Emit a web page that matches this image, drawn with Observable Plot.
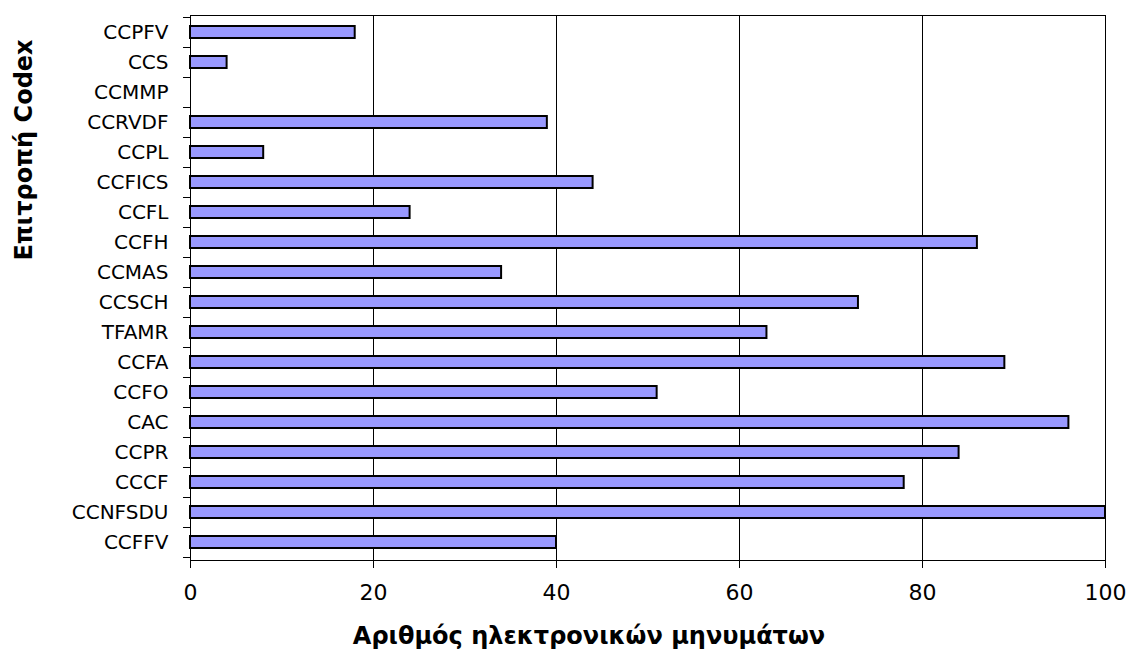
<!DOCTYPE html>
<html>
<head>
<meta charset="utf-8">
<script src="https://cdn.jsdelivr.net/npm/d3@7"></script>
<script src="https://cdn.jsdelivr.net/npm/@observablehq/plot@0.6"></script>
<style>
  html, body { margin: 0; padding: 0; background: #fff; }
  #chart svg { display: block; }
</style>
</head>
<body>
<div id="chart"></div>
<script>
// Categories, listed top to bottom as drawn
const categories = ["CCPFV","CCS","CCMMP","CCRVDF","CCPL","CCFICS","CCFL","CCFH","CCMAS","CCSCH","TFAMR","CCFA","CCFO","CAC","CCPR","CCCF","CCNFSDU","CCFFV"];
const messages   = [18, 4, 0, 39, 8, 44, 24, 86, 34, 73, 63, 89, 51, 96, 84, 78, 100, 40];
const xTicks = [0, 20, 40, 60, 80, 100];
const xTitle = "Αριθμός ηλεκτρονικών μηνυμάτων";
const yTitle = "Επιτροπή Codex";

const data = categories.map((c, i) => ({committee: c, value: messages[i]}));
const font = "'DejaVu Sans', Verdana, sans-serif";

// category boundary ticks (Excel style, between categories)
function categoryTicks(index, scales, values, dimensions) {
  const y = scales.y;
  const step = y.step();
  const off = (step - y.bandwidth()) / 2;
  const g = d3.create("svg:g").attr("stroke", "#000").attr("stroke-width", 1);
  const xs = dimensions.marginLeft;
  const ys = categories.map(c => y(c) - off);
  ys.push(y(categories[categories.length - 1]) - off + step);
  for (const yy of ys) {
    const p = Math.round(yy) + 0.5;
    g.append("line").attr("x1", xs - 7).attr("x2", xs).attr("y1", p).attr("y2", p);
  }
  return g.node();
}

const chart = Plot.plot({
  width: 1126,
  height: 652,
  marginLeft: 190,
  marginRight: 21,
  marginTop: 15,
  marginBottom: 92,
  style: {fontFamily: font, fontSize: "20px", color: "#000", background: "#fff"},
  x: {domain: [0, 100], ticks: xTicks, label: null},
  y: {domain: categories, paddingInner: 0.59, paddingOuter: 0.295, label: null},
  marks: [
    Plot.ruleX(xTicks.filter(t => t > 0 && t < 100), {stroke: "#000", strokeWidth: 1}),
    Plot.frame({stroke: "#000", strokeWidth: 1}),
    Plot.barX(data, {x: "value", y: "committee", fill: "#9999FF", stroke: "#000", strokeWidth: 2}),
    Plot.axisX({ticks: xTicks, tickSize: 8, tickPadding: 16, label: null, stroke: "#000", fontSize: 22}),
    Plot.axisY({tickSize: 0, tickPadding: 22, label: null, fontSize: 20}),
    categoryTicks,
    Plot.text([xTitle], {frameAnchor: "bottom", dx: -59, dy: 76, text: d => d, fontWeight: "bold", fontSize: 24, textAnchor: "middle", lineAnchor: "middle"}),
    Plot.text([yTitle], {frameAnchor: "left", dx: -166, dy: -138, rotate: -90, text: d => d, fontWeight: "bold", fontSize: 24, textAnchor: "middle", lineAnchor: "middle"})
  ]
});
document.getElementById("chart").append(chart);
</script>
</body>
</html>
